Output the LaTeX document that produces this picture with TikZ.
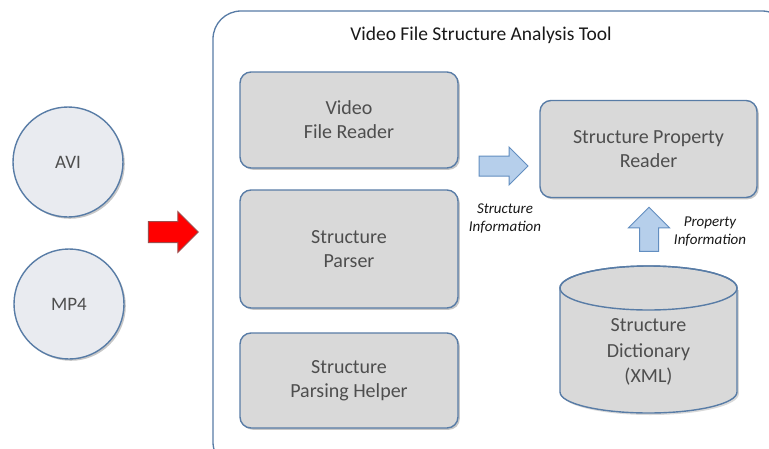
\documentclass[tikz,border=0pt]{standalone}
\usepackage{fontspec}
\setmainfont{Carlito}
\usetikzlibrary{shapes.arrows,shadows,calc}
\definecolor{edgeblue}{RGB}{88,124,166}
\definecolor{boxgray}{RGB}{217,217,217}
\definecolor{discfill}{RGB}{233,235,240}
\definecolor{labelgray}{RGB}{78,78,78}
\definecolor{arrowfill}{RGB}{182,207,235}
\definecolor{arrowedge}{RGB}{98,142,192}
\definecolor{titlegray}{RGB}{25,25,25}
\tikzset{
  softshadow/.style={drop shadow={shadow xshift=1.8pt,shadow yshift=-1.8pt,opacity=0.22,fill=black}},
  module/.style={draw=edgeblue,line width=1.4pt,fill=boxgray,rounded corners=11pt,
    minimum width=218pt,align=center,text=labelgray,font=\fontsize{20}{24}\selectfont,softshadow},
  filedisc/.style={circle,draw=edgeblue,line width=1.4pt,fill=discfill,minimum size=110pt,
    text=labelgray,font=\fontsize{19}{22}\selectfont,softshadow},
  blockarrow/.style={single arrow,draw=arrowedge,line width=1pt,fill=arrowfill,inner xsep=0pt,
    single arrow head indent=0pt},
  flowlabel/.style={align=center,text=titlegray,font=\fontsize{15}{18}\selectfont\itshape}
}
\begin{document}
\begin{tikzpicture}[x=1pt,y=1pt]
\useasboundingbox (0,0) rectangle (769,-448);
\fill[white] (0,0) rectangle (769,-448);

% outer frame of the tool
\draw[edgeblue,line width=1.3pt,rounded corners=28pt] (213,-11) rectangle (790,-470);
\node[text=titlegray,font=\fontsize{19.5}{22}\selectfont] (title) at (481,-35) {Video File Structure Analysis Tool};

% input files
\node[filedisc] (avi) at (68,-162) {AVI};
\node[filedisc] (mp4) at (69,-304) {MP4};

% input arrow
\node[blockarrow,draw=red!45!black!70,fill=red,inner ysep=10pt,minimum height=50pt,minimum width=40pt,
  single arrow head extend=10pt] (inarrow) at (168,-232) {};

% modules
\node[module,minimum height=96pt] (reader) at (349,-120) {Video\\File Reader};
\node[module,minimum height=118pt] (parser) at (349,-249) {Structure\\Parser};
\node[module,minimum height=95pt] (helper) at (349,-380.5) {Structure\\Parsing Helper};
\node[module,minimum width=217pt,minimum height=97pt] (propreader) at (648.5,-149) {Structure Property\\Reader};

% structure dictionary (cylinder)
\fill[black,opacity=0.15] (561.8,-290) -- (561.8,-394) arc[start angle=180,end angle=360,x radius=88.5pt,y radius=21pt]
  -- (738.8,-290) -- cycle;
\draw[edgeblue,line width=1.4pt,fill=boxgray] (560,-288) -- (560,-392)
  arc[start angle=180,end angle=360,x radius=88.5pt,y radius=21pt]
  -- (737,-288) arc[start angle=0,end angle=180,x radius=88.5pt,y radius=22pt] -- cycle;
\draw[edgeblue,line width=1.4pt] (648.5,-288) ellipse[x radius=88.5pt,y radius=22pt];
\node[align=center,text=labelgray,font=\fontsize{20}{25.5}\selectfont] (dict) at (648.5,-352) {Structure\\Dictionary\\(XML)};

% information flow arrows
\node[blockarrow,inner ysep=9.5pt,minimum height=49pt,minimum width=37pt,single arrow head extend=9pt] (structarrow) at (498.5,-166) {};
\node[blockarrow,rotate=90,inner ysep=9pt,minimum height=44pt,minimum width=40pt,single arrow head extend=11pt] (proparrow) at (649,-234) {};
\node[flowlabel] (structlabel) at (505,-219) {Structure\\Information};
\node[flowlabel] (proplabel) at (710,-232) {Property\\Information};
\end{tikzpicture}
\end{document}
